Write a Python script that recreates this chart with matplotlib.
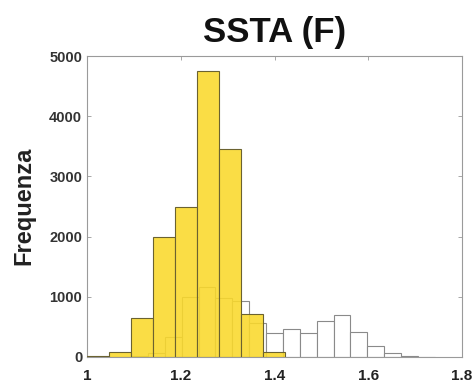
import numpy as np
import matplotlib
matplotlib.use("Agg")
import matplotlib.pyplot as plt

plt.rcParams['font.family'] = ['Liberation Sans', 'DejaVu Sans']

# Yellow histogram (bin width ~0.047 starting at 1.0)
yellow_edges = [1.0, 1.047, 1.094, 1.141, 1.188, 1.235, 1.282, 1.329, 1.376, 1.423]
yellow_counts = [12, 90, 650, 2000, 2500, 4750, 3450, 720, 80]

# White (outlined) histogram (bin width ~0.036)
white_edges = [1.094, 1.130, 1.166, 1.202, 1.238, 1.274, 1.310, 1.346, 1.382,
               1.418, 1.454, 1.490, 1.526, 1.562, 1.598, 1.634, 1.670, 1.706, 1.742]
white_counts = [10, 60, 330, 1000, 1170, 980, 930, 560, 400,
                467, 400, 590, 700, 410, 175, 60, 20, 8]

x_ticks = [1.0, 1.2, 1.4, 1.6, 1.8]
x_ticklabels = ["1", "1.2", "1.4", "1.6", "1.8"]
y_ticks = [0, 1000, 2000, 3000, 4000, 5000]

fig = plt.figure(figsize=(4.74, 3.83), dpi=100)
ax = fig.add_axes([87/474, 1 - 357/383, (462-87)/474, (357-56)/383])

we = np.array(white_edges)
ax.bar(we[:-1], white_counts, width=np.diff(we), align='edge',
       facecolor='white', edgecolor='#8a8a8a', linewidth=0.8, zorder=2)

ye = np.array(yellow_edges)
ax.bar(ye[:-1], yellow_counts, width=np.diff(ye), align='edge',
       facecolor=(0.98, 0.85, 0.17, 0.88), edgecolor='#6b6230', linewidth=0.8, zorder=3)

ax.set_xlim(1.0, 1.8)
ax.set_ylim(0, 5000)
ax.set_xticks(x_ticks)
ax.set_xticklabels(x_ticklabels, fontsize=11, fontweight='bold')
ax.set_yticks(y_ticks)
ax.set_yticklabels([str(v) for v in y_ticks], fontsize=10.5, fontweight='bold')
ax.tick_params(direction='in', length=3, width=0.6, colors='#999999',
               top=True, right=True)
ax.tick_params(axis='x', pad=9)
ax.tick_params(axis='y', pad=3.5)
for lab in ax.get_xticklabels():
    lab.set_color('#222222')
for lab in ax.get_yticklabels():
    lab.set_color('#333333')
for s in ax.spines.values():
    s.set_color('#9a9a9a')
    s.set_linewidth(0.8)

fig.text(275/474, 1 - 42/383, "SSTA (F)", fontsize=25, fontweight='bold',
         ha='center', va='baseline', color='#111111')
fig.text(24/474, 1 - 206/383, "Frequenza", fontsize=17, fontweight='bold',
         rotation=90, ha='center', va='center', color='#222222')

fig.savefig("out.png", dpi=100)
